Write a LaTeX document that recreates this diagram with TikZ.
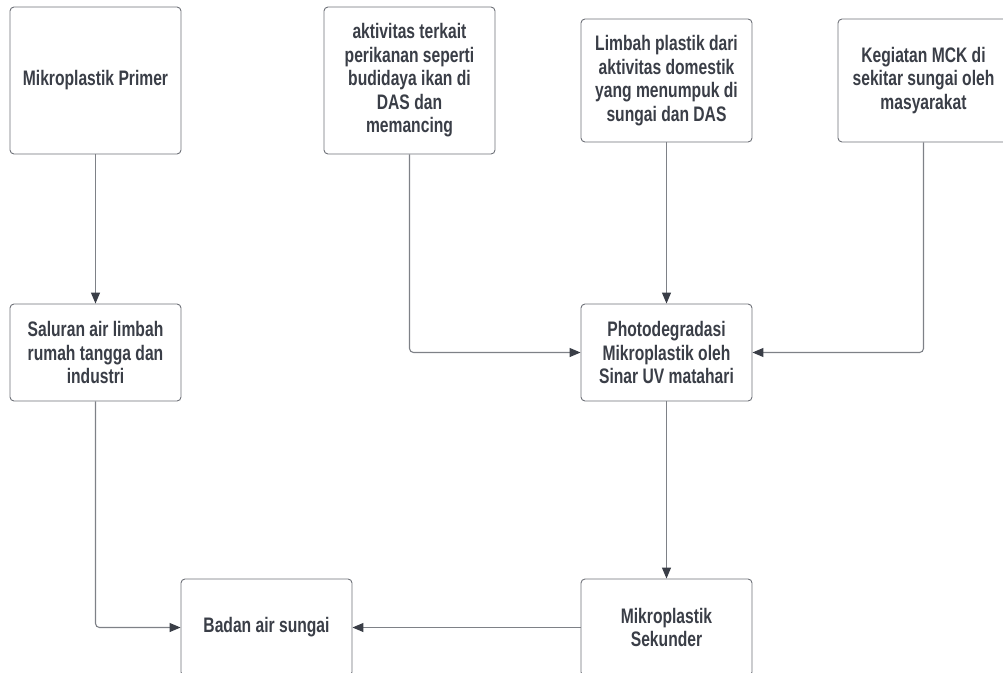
\documentclass[tikz,border=0pt]{standalone}
\usepackage{fontspec}
\newfontfamily\boxfont{Liberation Sans}[FakeStretch=0.745]
\usetikzlibrary{arrows.meta}
\definecolor{inkgray}{HTML}{3A3E47}
\definecolor{framegray}{HTML}{6E7178}
\definecolor{wiregray}{HTML}{7E8187}
\tikzset{
  x=1pt, y=-1pt,
  flowbox/.style={draw=framegray, line width=0.9pt, rounded corners=4pt, fill=white,
    minimum width=171pt, inner sep=0pt, align=center, text=inkgray,
    font=\boxfont\bfseries\fontsize{21}{23.5}\selectfont},
  wire/.style={draw=wiregray, line width=1.1pt, rounded corners=4pt,
    -{Triangle[length=11pt,width=9pt,fill=inkgray,color=inkgray]}}
}
\begin{document}
\begin{tikzpicture}
\useasboundingbox (0,0) rectangle (1003,672);
% source boxes on the top row
\node[flowbox, minimum height=147pt] (primer) at (95.5,80.5) {Mikroplastik Primer};
\node[flowbox, minimum height=147pt] (perikanan) at (409.5,80.5) {aktivitas terkait\\perikanan seperti\\budidaya ikan di\\DAS dan\\memancing};
\node[flowbox, minimum height=123pt] (domestik) at (666.5,80.5) {Limbah plastik dari\\aktivitas domestik\\yang menumpuk di\\sungai dan DAS};
\node[flowbox, minimum height=123pt] (mck) at (923.5,80.5) {Kegiatan MCK di\\sekitar sungai oleh\\masyarakat};
% middle row
\node[flowbox, minimum height=97pt] (saluran) at (95.5,352.5) {Saluran air limbah\\rumah tangga dan\\industri};
\node[flowbox, minimum height=97pt] (photo) at (666.5,352.5) {Photodegradasi\\Mikroplastik oleh\\Sinar UV matahari};
% bottom row
\node[flowbox, minimum height=97pt] (badan) at (266.5,627.5) {Badan air sungai};
\node[flowbox, minimum height=97pt] (sekunder) at (666.5,627.5) {Mikroplastik\\Sekunder};
% connectors
\draw[wire] (primer.south) -- (saluran.north);
\draw[wire] (perikanan.south) |- (photo.west);
\draw[wire] (domestik.south) -- (photo.north);
\draw[wire] (mck.south) |- (photo.east);
\draw[wire] (saluran.south) |- (badan.west);
\draw[wire] (photo.south) -- (sekunder.north);
\draw[wire] (sekunder.west) -- (badan.east);
\end{tikzpicture}
\end{document}
